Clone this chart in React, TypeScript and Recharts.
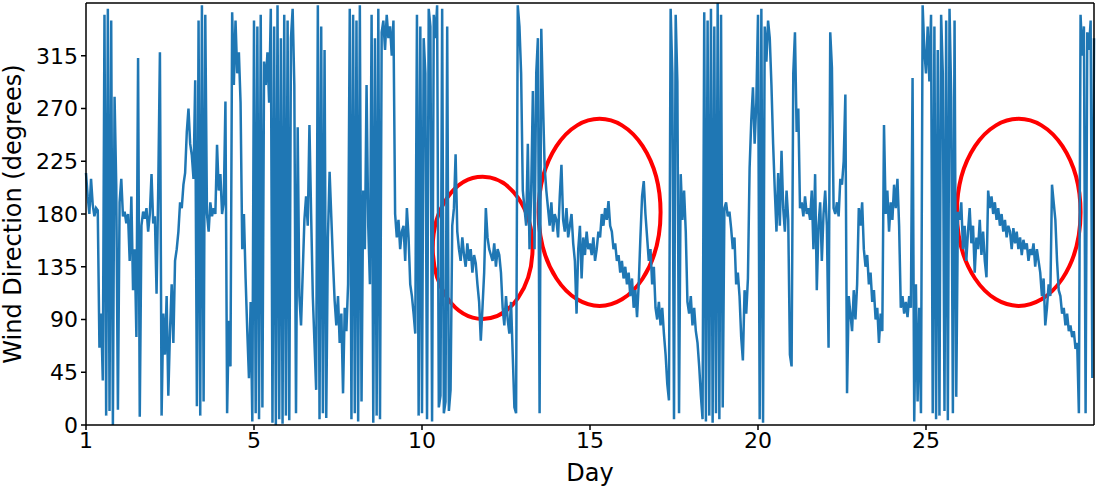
import { LineChart, Line, XAxis, YAxis, ReferenceArea, ReferenceLine, Label } from 'recharts';

const STEP = 0.05;

const days0to5 = [
  215, 195, 180, 210, 188, 178, 185, 183, 66, 95, 38, 350, 8, 355, 12, 345, 0, 280, 205, 13,
  190, 210, 178, 182, 172, 180, 140, 195, 115, 150, 75, 313, 7, 170, 182, 176, 185, 165, 180, 214,
  172, 178, 112, 202, 318, 8, 95, 60, 110, 25, 80, 120, 70, 140, 150, 165, 190, 185, 205, 215,
  250, 270, 240, 230, 210, 294, 16, 345, 8, 358, 20, 350, 180, 165, 190, 178, 185, 180, 239, 200,
  214, 180, 190, 276, 10, 89, 50, 352, 290, 345, 300, 318, 275, 150, 180, 125, 80, 40, 105, 3,
];

const days5to10 = [
  345, 10, 340, 5, 350, 15, 310, 290, 318, 275, 355, 2, 340, 0, 358, 5, 330, 1, 350, 8,
  345, 4, 330, 355, 290, 10, 254, 110, 85, 130, 175, 195, 170, 256, 180, 110, 70, 30, 358, 5,
  340, 10, 320, 6, 160, 216, 178, 140, 106, 85, 110, 70, 95, 27, 100, 80, 120, 355, 5, 350,
  10, 345, 3, 358, 20, 200, 150, 290, 170, 120, 350, 2, 330, 8, 355, 5, 335, 345, 320, 350,
  330, 340, 315, 345, 180, 160, 175, 150, 165, 170, 140, 185, 160, 120, 110, 95, 78, 350, 8, 340,
];

const days10to15 = [
  10, 330, 300, 5, 355, 340, 3, 350, 330, 358, 15, 25, 355, 10, 20, 340, 12, 30, 170, 185,
  231, 165, 150, 140, 160, 145, 135, 155, 140, 150, 130, 145, 138, 120, 105, 72, 100, 130, 185, 160,
  150, 145, 140, 155, 135, 150, 145, 130, 100, 85, 110, 90, 78, 105, 60, 15, 10, 358, 340, 300,
  200, 185, 170, 240, 150, 200, 285, 150, 300, 330, 10, 338, 276, 220, 200, 185, 170, 190, 165, 180,
  175, 160, 195, 222, 175, 165, 185, 160, 170, 180, 155, 140, 95, 150, 170, 125, 160, 145, 165, 150,
];

const days15to20 = [
  155, 145, 160, 140, 150, 165, 160, 180, 170, 185, 175, 191, 170, 165, 150, 155, 140, 145, 130, 140,
  125, 135, 120, 130, 110, 125, 100, 115, 92, 120, 160, 195, 208, 180, 160, 140, 150, 120, 135, 100,
  90, 105, 85, 100, 78, 60, 35, 21, 355, 300, 5, 350, 293, 10, 214, 175, 200, 165, 105, 95,
  110, 85, 100, 80, 70, 50, 25, 5, 352, 3, 345, 8, 355, 2, 340, 10, 360, 5, 350, 15,
  185, 190, 178, 182, 168, 150, 160, 120, 130, 110, 75, 55, 115, 95, 125, 219, 260, 288, 240, 275,
];

const days20to25 = [
  350, 5, 355, 2, 340, 310, 345, 330, 290, 240, 200, 165, 215, 170, 234, 185, 165, 200, 175, 60,
  50, 300, 335, 250, 270, 185, 190, 178, 195, 180, 185, 175, 200, 150, 214, 115, 170, 190, 140, 180,
  200, 170, 66, 335, 305, 185, 180, 190, 178, 210, 205, 225, 282, 27, 110, 95, 80, 115, 90, 120,
  185, 170, 190, 150, 135, 145, 120, 130, 105, 115, 90, 100, 70, 95, 80, 256, 180, 200, 165, 190,
  175, 205, 185, 210, 170, 100, 110, 95, 105, 92, 110, 100, 296, 3, 120, 20, 100, 10, 358, 320,
];

const days25to30 = [
  300, 340, 293, 350, 10, 340, 5, 320, 8, 350, 300, 12, 345, 4, 355, 280, 10, 345, 24, 182,
  175, 190, 150, 170, 140, 165, 185, 155, 170, 130, 160, 150, 175, 145, 165, 140, 126, 200, 185, 195,
  180, 190, 175, 185, 170, 180, 165, 175, 160, 170, 165, 150, 168, 155, 165, 150, 160, 145, 158, 150,
  155, 140, 150, 145, 155, 135, 150, 140, 130, 110, 125, 85, 100, 120, 110, 205, 190, 175, 140, 115,
  110, 95, 100, 85, 95, 80, 85, 75, 80, 65, 70, 10, 350, 315, 340, 10, 335, 320, 345, 40,
  330,
];

const dayTicks = [0, 5, 10, 15, 20, 25];
const dayTickLabels = ['1', '5', '10', '15', '20', '25'];
const degreeTicks = [0, 45, 90, 135, 180, 225, 270, 315];

// red circled periods: day range and degree range
const circledDays = [[10.32, 13.29], [13.47, 17.1], [25.92, 29.6]];
const circledDeg = [[90.5, 211.7], [101.6, 261.2], [101.6, 261.2]];

const direction = [...days0to5, ...days5to10, ...days10to15, ...days15to20, ...days20to25, ...days25to30];
const data = direction.map((deg, i) => ({ day: i * STEP, deg }));

const tickStyle = { fontFamily: 'DejaVu Sans', fontSize: 22, fill: '#000' };
const labelStyle = { fontFamily: 'DejaVu Sans', fontSize: 24, fill: '#000' };

const Ellipse = (props: any) => {
  const { x, y, width, height } = props;
  return (
    <ellipse
      cx={x + width / 2}
      cy={y + height / 2}
      rx={width / 2}
      ry={height / 2}
      fill="none"
      stroke="#ff0000"
      strokeWidth={4}
    />
  );
};

export default function App() {
  return (
    <div style={{ position: 'absolute', left: 0, top: 0, background: '#fff' }}>
      <LineChart width={1096} height={488} data={data} margin={{ top: 3, right: 2, bottom: 0, left: 0 }}>
        <XAxis
          type="number"
          dataKey="day"
          domain={[0, 30]}
          ticks={dayTicks}
          tickFormatter={(v) => dayTickLabels[dayTicks.indexOf(v)] ?? String(v)}
          height={63}
          tick={tickStyle}
          tickSize={5}
          tickMargin={2}
          axisLine={{ stroke: '#000', strokeWidth: 1.5 }}
          tickLine={{ stroke: '#000', strokeWidth: 1.5 }}
        >
          <Label
            content={(p: any) => {
              const vb = p.viewBox;
              return (
                <text x={vb.x + vb.width / 2} y={vb.y + 56} textAnchor="middle" style={labelStyle}>
                  Day
                </text>
              );
            }}
          />
        </XAxis>
        <YAxis
          type="number"
          domain={[0, 360]}
          ticks={degreeTicks}
          width={86}
          tick={tickStyle}
          tickSize={5}
          tickMargin={3}
          axisLine={{ stroke: '#000', strokeWidth: 1.5 }}
          tickLine={{ stroke: '#000', strokeWidth: 1.5 }}
        >
          <Label
            content={(p: any) => {
              const vb = p.viewBox;
              const cx = vb.x + 21;
              const cy = vb.y + vb.height / 2;
              return (
                <text
                  x={cx}
                  y={cy}
                  transform={`rotate(-90 ${cx} ${cy})`}
                  textAnchor="middle"
                  style={labelStyle}
                >
                  Wind Direction (degrees)
                </text>
              );
            }}
          />
        </YAxis>
        {circledDays.map(([d1, d2], i) => (
          <ReferenceArea
            key={i}
            x1={d1}
            x2={d2}
            y1={circledDeg[i][0]}
            y2={circledDeg[i][1]}
            shape={<Ellipse />}
          />
        ))}
        <Line
          type="linear"
          dataKey="deg"
          stroke="#1f77b4"
          strokeWidth={2.5}
          dot={false}
          isAnimationActive={false}
        />
        <ReferenceLine y={360} stroke="#000" strokeWidth={1.5} />
        <ReferenceLine x={30} stroke="#000" strokeWidth={1.5} />
      </LineChart>
    </div>
  );
}
